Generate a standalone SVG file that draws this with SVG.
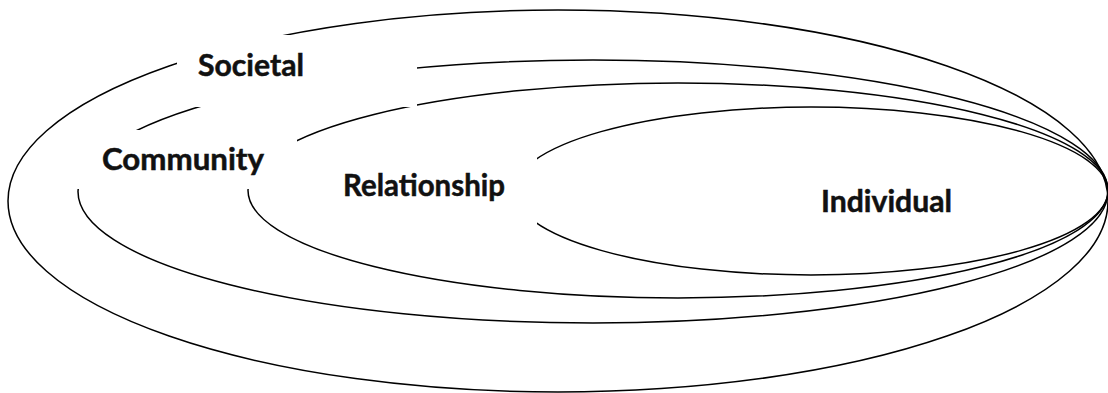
<svg xmlns="http://www.w3.org/2000/svg" width="1108" height="393" viewBox="0 0 1108 393">
<style>
.ring{fill:none;stroke:#000;stroke-width:1.5}
.lbl{font-family:Lato,"Open Sans","Liberation Sans",sans-serif;font-weight:bold;font-size:30px;fill:#111;stroke:#111;stroke-width:0.5}
</style>
<defs>
<mask id="gaps" maskUnits="userSpaceOnUse" x="0" y="0" width="1108" height="393">
<rect x="0" y="0" width="1108" height="393" fill="#fff"/>
<rect x="177" y="35" width="240" height="72" fill="#000"/>
<rect x="76" y="130" width="221" height="59" fill="#000"/>
<rect x="335" y="155" width="202" height="72" fill="#000"/>
</mask>
</defs>
<rect width="1108" height="393" fill="#fff"/>
<g id="societal">
<ellipse class="ring" cx="558" cy="201" rx="550" ry="191" mask="url(#gaps)"/>
<text class="lbl" x="198" y="76" textLength="106" lengthAdjust="spacingAndGlyphs">Societal</text>
</g>
<g id="community">
<ellipse class="ring" cx="593" cy="191.5" rx="515" ry="131.5" mask="url(#gaps)"/>
<text class="lbl" x="102" y="170" textLength="162" lengthAdjust="spacingAndGlyphs">Community</text>
</g>
<g id="relationship">
<ellipse class="ring" cx="678" cy="190.5" rx="430" ry="107.5" mask="url(#gaps)"/>
<text class="lbl" x="343" y="196" textLength="162" lengthAdjust="spacingAndGlyphs">Relationship</text>
</g>
<g id="individual">
<ellipse class="ring" cx="811" cy="191" rx="297" ry="84" mask="url(#gaps)"/>
<text class="lbl" x="821" y="212" textLength="131" lengthAdjust="spacingAndGlyphs">Individual</text>
</g>
<g id="connectors"/>
</svg>
